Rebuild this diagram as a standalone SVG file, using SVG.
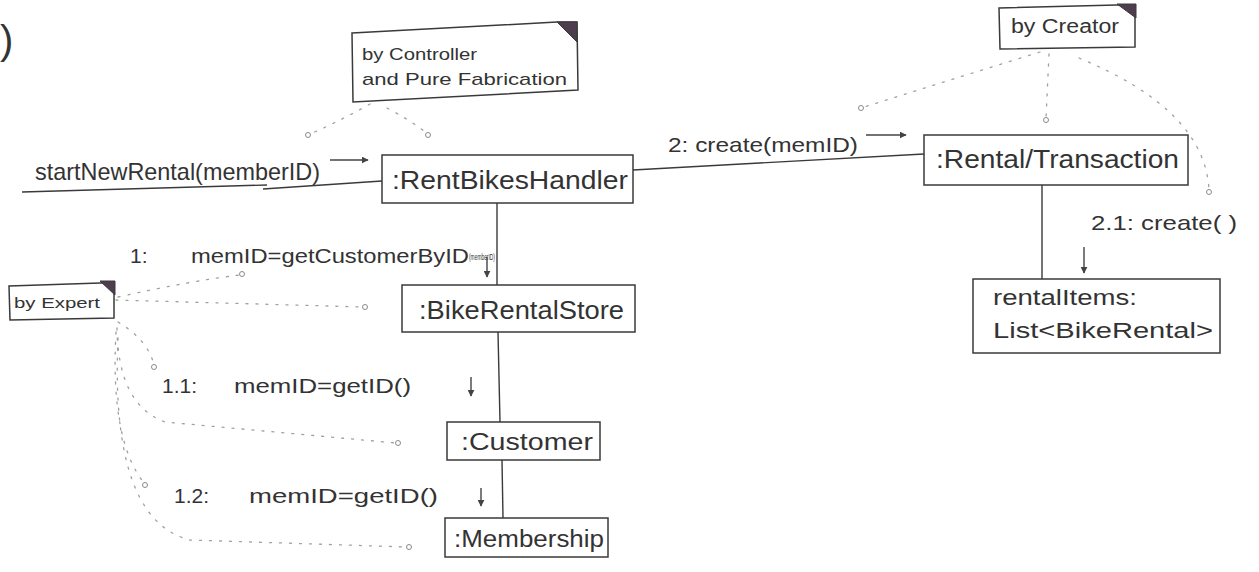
<svg xmlns="http://www.w3.org/2000/svg" width="1259" height="572" viewBox="0 0 1259 572">
<defs>
<marker id="ah" viewBox="0 0 10 10" refX="9" refY="5" markerWidth="7" markerHeight="7" orient="auto" markerUnits="userSpaceOnUse">
<path d="M0,0 L10,5 L0,10 z" fill="#444"/>
</marker>
<style>
.bg{fill:#ffffff}
.box{fill:none;stroke:#3a3a3a;stroke-width:1.5}
.link{fill:none;stroke:#3a3a3a;stroke-width:1.4}
.dot{fill:none;stroke:#a0a0a0;stroke-width:1.3;stroke-dasharray:2 8;stroke-linecap:round}
.end{fill:#fff;stroke:#8a8a8a;stroke-width:1}
.fold{fill:#4e3d4e;stroke:#3a3a3a;stroke-width:1}
.msg{fill:none;stroke:#444;stroke-width:1.4}
text{font-family:"Liberation Sans","DejaVu Sans",sans-serif;fill:#333333}
.obj{font-size:25px}
.lbl{font-size:21px}
.note{font-size:17px}
</style>
</defs>
<rect class="bg" x="0" y="0" width="1259" height="572"/>
<text x="0" y="54" style="font-size:40px">)</text>

<g id="connectors">
<path class="link" d="M22,192 L267,185 M263,189 L382,181"/>
<path class="link" d="M633,170 L924,154"/>
<path class="link" d="M497,203 L497,285"/>
<path class="link" d="M498,332 L500,422"/>
<path class="link" d="M502,460 L503,518"/>
<path class="link" d="M1042,185 L1042,279"/>
<path class="msg" d="M330,160 L368,160" marker-end="url(#ah)"/>
<path class="msg" d="M866,135 L906,135" marker-end="url(#ah)"/>
<path class="msg" d="M487,257 L487,277" marker-end="url(#ah)"/>
<path class="msg" d="M1084,247 L1084,273" marker-end="url(#ah)"/>
<path class="msg" d="M471,377 L471,396" marker-end="url(#ah)"/>
<path class="msg" d="M481,488 L481,506" marker-end="url(#ah)"/>
<path class="dot" d="M370,104 Q340,121 308,135"/>
<path class="dot" d="M387,108 Q410,120 428,134"/>
<path class="dot" d="M1040,52 Q950,80 861,108"/>
<path class="dot" d="M1049,54 L1046,118"/>
<path class="dot" d="M1079,58 Q1205,110 1209,190"/>
<path class="dot" d="M116,300 L363,307"/>
<path class="dot" d="M118,297 Q190,281 240,275"/>
<path class="dot" d="M118,322 Q148,340 154,365"/>
<path class="dot" d="M117,328 Q118,405 165,422 L396,443"/>
<path class="dot" d="M116,332 Q110,440 144,483"/>
<path class="dot" d="M118,338 Q110,520 190,540 L407,547"/>
<circle class="end" cx="308" cy="135" r="2.5"/>
<circle class="end" cx="428" cy="135" r="2.5"/>
<circle class="end" cx="861" cy="108" r="2.5"/>
<circle class="end" cx="1046" cy="120" r="2.5"/>
<circle class="end" cx="1209" cy="192" r="2.5"/>
<circle class="end" cx="365" cy="307" r="2.5"/>
<circle class="end" cx="242" cy="274" r="2.5"/>
<circle class="end" cx="154" cy="367" r="2.5"/>
<circle class="end" cx="398" cy="443" r="2.5"/>
<circle class="end" cx="145" cy="485" r="2.5"/>
<circle class="end" cx="409" cy="547" r="2.5"/>
</g>

<g id="msg-start">
<text class="lbl" x="35" y="180" textLength="285" lengthAdjust="spacingAndGlyphs" style="font-size:24px">startNewRental(memberID)</text>
</g>
<g id="msg-2">
<text class="lbl" x="668" y="152" textLength="190" lengthAdjust="spacingAndGlyphs">2: create(memID)</text>
</g>
<g id="msg-2-1">
<text class="lbl" x="1091" y="230" textLength="146" lengthAdjust="spacingAndGlyphs">2.1: create( )</text>
</g>
<g id="msg-1">
<text class="lbl" x="130" y="263">1:</text>
<text class="lbl" x="191" y="263" textLength="278" lengthAdjust="spacingAndGlyphs">memID=getCustomerByID</text>
<text x="469" y="260" textLength="26" lengthAdjust="spacingAndGlyphs" style="font-size:9px">(memberID)</text>
</g>
<g id="msg-1-1">
<text class="lbl" x="162" y="393">1.1:</text>
<text class="lbl" x="234" y="393" textLength="177" lengthAdjust="spacingAndGlyphs">memID=getID()</text>
</g>
<g id="msg-1-2">
<text class="lbl" x="174" y="503">1.2:</text>
<text class="lbl" x="249" y="503" textLength="189" lengthAdjust="spacingAndGlyphs">memID=getID()</text>
</g>

<g id="note-controller">
<path class="box" d="M352,33 L557,22 L577,22 L578,90 L353,102 Z"/>
<path class="fold" d="M557,22 L577,22 L577,42 Z"/>
<text class="note" x="362" y="60" textLength="115" lengthAdjust="spacingAndGlyphs">by Controller</text>
<text class="note" x="362" y="85" textLength="205" lengthAdjust="spacingAndGlyphs">and Pure Fabrication</text>
</g>
<g id="note-creator">
<path class="box" d="M999,8 L1117,5 L1135,5 L1135,47 L1000,49 Z"/>
<path class="fold" d="M1117,4 L1136,4 L1136,18 Z"/>
<text class="note" x="1011" y="33" textLength="108" lengthAdjust="spacingAndGlyphs" style="font-size:20px">by Creator</text>
</g>
<g id="note-expert">
<path class="box" d="M9,286 L100,283 L114,283 L114,318 L10,320 Z"/>
<path class="fold" d="M100,281 L115,281 L115,295 Z"/>
<text class="note" x="14" y="308" textLength="86" lengthAdjust="spacingAndGlyphs" style="font-size:15px">by Expert</text>
</g>

<g id="node-rentbikeshandler">
<rect class="box" x="382" y="155" width="251" height="48"/>
<text class="obj" x="392" y="189" textLength="236" lengthAdjust="spacingAndGlyphs">:RentBikesHandler</text>
</g>
<g id="node-rental">
<rect class="box" x="924" y="135" width="264" height="50"/>
<text class="obj" x="936" y="168" textLength="243" lengthAdjust="spacingAndGlyphs">:Rental/Transaction</text>
</g>
<g id="node-rentalitems">
<rect class="box" x="973" y="279" width="247" height="74"/>
<text class="lbl" x="993" y="305" textLength="144" lengthAdjust="spacingAndGlyphs" style="font-size:22px">rentalItems:</text>
<text class="lbl" x="993" y="338" textLength="220" lengthAdjust="spacingAndGlyphs" style="font-size:22px">List&lt;BikeRental&gt;</text>
</g>
<g id="node-bikerentalstore">
<rect class="box" x="402" y="285" width="233" height="47"/>
<text class="obj" x="419" y="319" textLength="205" lengthAdjust="spacingAndGlyphs">:BikeRentalStore</text>
</g>
<g id="node-customer">
<rect class="box" x="447" y="422" width="153" height="38"/>
<text class="obj" x="461" y="450" textLength="132" lengthAdjust="spacingAndGlyphs" style="font-size:23px">:Customer</text>
</g>
<g id="node-membership">
<rect class="box" x="445" y="518" width="163" height="39"/>
<text class="obj" x="454" y="547" textLength="150" lengthAdjust="spacingAndGlyphs" style="font-size:23px">:Membership</text>
</g>
</svg>
